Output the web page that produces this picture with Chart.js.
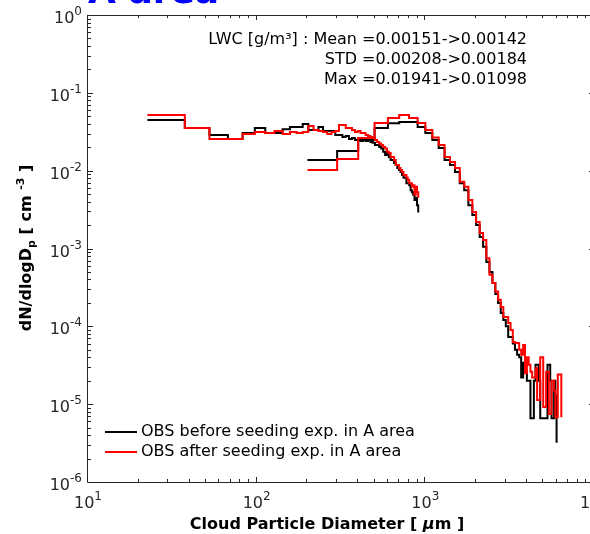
<!DOCTYPE html>
<html>
<head>
<meta charset="utf-8">
<script src="https://cdn.jsdelivr.net/npm/chart.js@4.4.1/dist/chart.umd.min.js"></script>
<style>
  html, body { margin: 0; padding: 0; background: #fff; overflow: hidden; }
  #wrap { position: relative; width: 590px; height: 534px; overflow: hidden; }
  #chart { position: absolute; left: 0; top: -46px; }
</style>
</head>
<body>
<div id="wrap"><canvas id="chart" width="640" height="580"></canvas></div>
<script>
// small probe bins (um)
const smallDiam = [22.5, 37.5, 52.5, 67.5, 82.5, 97.5, 112.5, 127.5, 142.5, 157.5,
  172.5, 187.5, 202.5, 217.5, 232.5, 247.5, 262.5, 277.5, 292.5, 307.5,
  322.5, 337.5, 352.5, 367.5, 382.5, 397.5, 412.5, 427.5, 442.5, 457.5,
  472.5, 487.5, 502.5, 517.5, 532.5, 547.5, 562.5, 577.5, 592.5, 607.5,
  622.5, 637.5, 652.5, 667.5, 682.5, 697.5, 712.5, 727.5, 742.5, 757.5,
  772.5, 787.5, 802.5, 817.5, 832.5, 847.5, 862.5, 877.5, 892.5, 907.5];

const smallBefore = [0.0448, 0.0353, 0.0287, 0.0255, 0.0305, 0.0353, 0.0305, 0.0305, 0.0340, 0.0364,
  0.0364, 0.0398, 0.0333, 0.0333, 0.0364, 0.0323, 0.0323, 0.0323, 0.0287, 0.0287,
  0.0271, 0.0279, 0.0255, 0.0263, 0.0248, 0.0255, 0.0241, 0.0248, 0.0241, 0.0248,
  0.0234, 0.0228, 0.0214, 0.0214, 0.0201, 0.0192, 0.0175, 0.0159, 0.0169, 0.0150,
  0.0137, 0.0137, 0.0125, 0.0118, 0.0108, 0.0102, 0.0096, 0.0088, 0.0081, 0.0081,
  0.0069, 0.0069, 0.0065, 0.0056, 0.0053, 0.0049, 0.0042, 0.0045, 0.0036, 0.0029];

const smallAfter = [0.0519, 0.0353, 0.0255, 0.0255, 0.0296, 0.0314, 0.0305, 0.0323, 0.0296, 0.0314,
  0.0305, 0.0314, 0.0375, 0.0333, 0.0323, 0.0314, 0.0296, 0.0314, 0.0323, 0.0386,
  0.0386, 0.0353, 0.0353, 0.0333, 0.0314, 0.0323, 0.0305, 0.0305, 0.0287, 0.0279,
  0.0271, 0.0263, 0.0248, 0.0234, 0.0224, 0.0214, 0.0201, 0.0192, 0.0175, 0.0169,
  0.0150, 0.0150, 0.0137, 0.0118, 0.0118, 0.0108, 0.0102, 0.0096, 0.0088, 0.0088,
  0.0081, 0.0076, 0.0069, 0.0069, 0.0062, 0.0065, 0.0049, 0.0062, 0.0053, 0.0045];

// large probe bins (um)
const largeDiam = [200, 300, 400, 500, 600, 700, 800, 900, 1000, 1100,
  1200, 1300, 1400, 1500, 1600, 1700, 1800, 1900, 2000, 2100,
  2200, 2300, 2400, 2500, 2600, 2700, 2800, 2900, 3000, 3100,
  3200, 3300, 3400, 3500, 3600, 3700, 3800, 3900, 4000, 4100,
  4200, 4300, 4400, 4500, 4600, 4700, 4800, 4900, 5000, 5100,
  5200, 5300, 5400, 5500, 5600, 5700, 5800, 5900, 6000, 6100,
  6200, 6300, 6400];

const largeBefore = [0.0137, 0.0179, 0.0248, 0.0353, 0.0408, 0.0422, 0.0422, 0.0364, 0.0305, 0.0248,
  0.0196, 0.0137, 0.0118, 0.0096, 0.0069, 0.0056, 0.0036, 0.0027, 0.0020, 0.00141,
  0.00105, 0.00067, 0.00050, 0.00036, 0.00026, 0.00020, 0.000148, 0.000121, 0.000100, 0.000073,
  0.000073, 0.000060, 0.000050, 0.000043, 0.000040, 0.000022, 0.000034, 0.000026, 0.000020, 0.000020,
  0.0000066, 0.0000066, 0.000020, 0.000032, 0.000032, 0.000020, 0.0000066, 0.0000066, 0.0000066, 0.0000066,
  0.0000066, 0.000032, 0.000032, 0.000020, 0.0000066, 0.0000066, 0.000020, 0.000013, 0.0000032];

const largeAfter = [0.0102, 0.0141, 0.0263, 0.0410, 0.0475, 0.0519, 0.0475, 0.0410, 0.0333, 0.0267,
  0.0214, 0.0150, 0.0129, 0.0108, 0.0072, 0.0062, 0.0042, 0.00294, 0.00219, 0.00158,
  0.00129, 0.00075, 0.00046, 0.00036, 0.00028, 0.00022, 0.000177, 0.000132, 0.000132, 0.000110,
  0.000090, 0.000063, 0.000061, 0.000061, 0.000050, 0.000043, 0.0000575, 0.000025, 0.000040, 0.000032,
  0.000026, 0.000022, 0.000022, 0.000029, 0.0000113, 0.0000113, 0.000040, 0.000040, 0.0000092, 0.0000092,
  0.000026, 0.000026, 0.0000075, 0.0000075, 0.000020, 0.000020, 0.000015, 0.0000068, 0.0000068, 0.000024,
  0.000024, 0.000024, 0.0000068];

const xTickValues = [10, 100, 1000, 10000];
const xTickLabels = ["10^1", "10^2", "10^3", "10^4"];
const yTickValues = [1e-6, 1e-5, 1e-4, 1e-3, 1e-2, 1e-1, 1];
const yTickLabels = ["10^-6", "10^-5", "10^-4", "10^-3", "10^-2", "10^-1", "10^0"];

const legendLabels = ["OBS before seeding exp. in A area", "OBS after seeding exp. in A area"];
const seriesColors = ["#000000", "#ff0000"];
const lwcLines = ["LWC [g/m³] : Mean =0.00151->0.00142", "STD =0.00208->0.00184", "Max =0.01941->0.01098"];
const headerText = "A area";

const FONT = "'DejaVu Sans', 'Liberation Sans', sans-serif";
const AXIS_COLOR = "#262626";

const toPoints = (xs, ys) => ys.map((y, i) => ({ x: xs[i], y: y }));

function stairs(label, xs, ys, color, order) {
  return {
    label: label,
    data: toPoints(xs, ys),
    borderColor: color,
    backgroundColor: color,
    borderWidth: 2,
    pointRadius: 0,
    stepped: "before",
    fill: false,
    order: order,
  };
}

// text pieces (plain / sub / sup), anchored by align
function drawRich(ctx, parts, x, y, align) {
  let total = 0;
  parts.forEach((p) => {
    ctx.font = p.font;
    p.w = ctx.measureText(p.text).width;
    total += p.w;
  });
  let cx = align === "right" ? x - total : x - total / 2;
  ctx.textAlign = "left";
  ctx.textBaseline = "alphabetic";
  parts.forEach((p) => {
    ctx.font = p.font;
    ctx.fillText(p.text, cx, y + (p.dy || 0));
    cx += p.w;
  });
}

function powerParts(label) {
  const [base, exp] = label.split("^");
  return [
    { text: base, font: "16px " + FONT },
    { text: exp, font: "12px " + FONT, dy: -8 },
  ];
}

// box + inward ticks + tick labels, matlab style
const framePlugin = {
  id: "frame",
  afterDatasetsDraw(chart) {
    const { ctx, chartArea: a, scales } = chart;
    const x = scales.x, y = scales.y;
    ctx.save();
    ctx.strokeStyle = AXIS_COLOR;
    ctx.lineWidth = 1;
    ctx.beginPath();
    ctx.rect(a.left - 0.5, a.top + 0.5, a.right - a.left, a.bottom - a.top);
    ctx.stroke();

    ctx.beginPath();
    for (let e = 1; e < 4; e++) {
      for (let m = 1; m <= 9; m++) {
        const px = Math.round(x.getPixelForValue(m * Math.pow(10, e))) - 0.5;
        const len = m === 1 ? 5 : 3;
        ctx.moveTo(px, a.bottom); ctx.lineTo(px, a.bottom - len);
        ctx.moveTo(px, a.top); ctx.lineTo(px, a.top + len);
      }
    }
    for (let e = -6; e < 0; e++) {
      for (let m = 1; m <= 9; m++) {
        const py = Math.round(y.getPixelForValue(m * Math.pow(10, e))) + 0.5;
        const len = m === 1 ? 5 : 3;
        ctx.moveTo(a.left, py); ctx.lineTo(a.left + len, py);
        ctx.moveTo(a.right, py); ctx.lineTo(a.right - len, py);
      }
    }
    ctx.stroke();

    ctx.fillStyle = AXIS_COLOR;
    yTickValues.forEach((v, i) => {
      const py = y.getPixelForValue(v);
      drawRich(ctx, powerParts(yTickLabels[i]), a.left - 6, py + 8, "right");
    });
    xTickValues.forEach((v, i) => {
      const px = x.getPixelForValue(v);
      drawRich(ctx, powerParts(xTickLabels[i]), px, a.bottom + 26, "center");
    });
    ctx.restore();
  },
};

// legend, notes, titles
const textPlugin = {
  id: "texts",
  afterDraw(chart) {
    const ctx = chart.ctx;
    ctx.save();

    // header, mostly cut off by the page top
    ctx.fillStyle = "#0000ff";
    ctx.font = "bold 36px " + FONT;
    ctx.textAlign = "left";
    ctx.textBaseline = "alphabetic";
    ctx.fillText(headerText, 88, 49);

    // LWC notes
    ctx.fillStyle = "#000";
    ctx.font = "16px " + FONT;
    ctx.textAlign = "right";
    ctx.textBaseline = "middle";
    lwcLines.forEach((t, i) => ctx.fillText(t, 527, 86 + i * 20));

    // legend
    ctx.textAlign = "left";
    legendLabels.forEach((t, i) => {
      const ly = 478 + i * 20;
      ctx.strokeStyle = seriesColors[i];
      ctx.lineWidth = 2;
      ctx.beginPath();
      ctx.moveTo(105, ly);
      ctx.lineTo(137, ly);
      ctx.stroke();
      ctx.fillStyle = "#000";
      ctx.fillText(t, 141, ly);
    });

    // axis titles
    ctx.fillStyle = "#000";
    const b = "bold 16px " + FONT;
    const s = "bold 11px " + FONT;
    drawRich(ctx, [
      { text: "Cloud Particle Diameter [ ", font: b },
      { text: "μ", font: "italic bold 16px " + FONT },
      { text: "m ]", font: b },
    ], 327, 575, "center");

    ctx.translate(31, 294);
    ctx.rotate(-Math.PI / 2);
    drawRich(ctx, [
      { text: "dN/dlogD", font: b },
      { text: "p", font: s, dy: 4 },
      { text: " [ cm ", font: b },
      { text: "-3", font: s, dy: -7 },
      { text: " ]", font: b },
    ], 0, 0, "center");
    ctx.restore();
  },
};

new Chart(document.getElementById("chart"), {
  type: "line",
  data: {
    datasets: [
      stairs(legendLabels[0], smallDiam, smallBefore, seriesColors[0], 1),
      stairs(legendLabels[0], largeDiam, largeBefore, seriesColors[0], 1),
      stairs(legendLabels[1], smallDiam, smallAfter, seriesColors[1], 0),
      stairs(legendLabels[1], largeDiam, largeAfter, seriesColors[1], 0),
    ],
  },
  options: {
    responsive: false,
    animation: false,
    devicePixelRatio: 1,
    layout: { padding: { left: 0, top: 61, right: 46, bottom: 0 } },
    plugins: {
      legend: { display: false },
      tooltip: { enabled: false },
    },
    scales: {
      x: {
        type: "logarithmic",
        min: 10,
        max: 10000,
        grid: { display: false },
        border: { display: false },
        afterBuildTicks: (scale) => {
          scale.ticks = xTickValues.map((v) => ({ value: v }));
        },
        afterFit: (scale) => {
          scale.height = 52;
        },
        ticks: { display: false },
      },
      y: {
        type: "logarithmic",
        min: 1e-6,
        max: 1,
        grid: { display: false },
        border: { display: false },
        afterBuildTicks: (scale) => {
          scale.ticks = yTickValues.map((v) => ({ value: v }));
        },
        afterFit: (scale) => {
          scale.width = 88;
        },
        ticks: { display: false },
      },
    },
  },
  plugins: [framePlugin, textPlugin],
});
</script>
</body>
</html>
